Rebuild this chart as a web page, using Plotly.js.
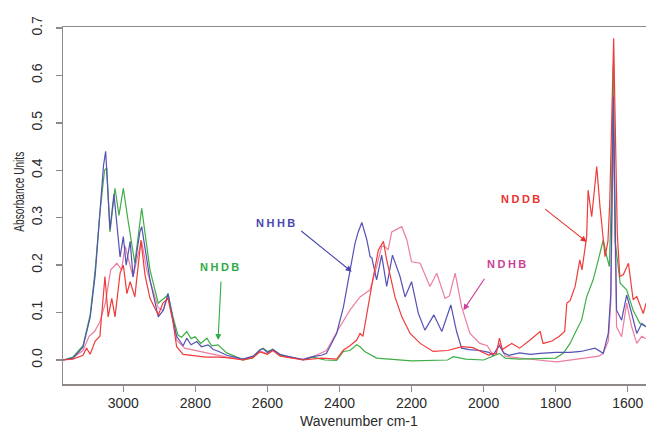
<!DOCTYPE html>
<html>
<head>
<meta charset="utf-8">
<script src="https://cdn.plot.ly/plotly-3.0.1.min.js"></script>
<style>
html,body{margin:0;padding:0;background:#fff;overflow:hidden;}
#chart{width:646px;height:431px;}
</style>
</head>
<body>
<div id="chart"></div>
<script>
// Wavenumbers (cm-1) and absorbance values
var nhhbWn = [3167,3140,3112,3092,3078,3065,3055,3049,3037,3026,3009,3000,2992,2981,2973,2954,2949,2926,2903,2889,2876,2866,2852,2843,2834,2824,2812,2796,2783,2765,2750,2735,2713,2690,2668,2640,2621,2612,2600,2585,2565,2547,2525,2501,2474,2450,2436,2408,2389,2371,2357,2348,2338,2324,2315,2310,2297,2283,2269,2253,2232,2218,2200,2181,2163,2138,2116,2091,2075,2061,2040,2010,1985,1975,1956,1945,1930,1900,1870,1843,1820,1800,1760,1730,1691,1668,1654,1647,1640,1635,1631,1617,1603,1589,1575,1561,1549];
var nhhbAbs = [0.000,0.004,0.027,0.090,0.180,0.300,0.410,0.440,0.275,0.350,0.217,0.260,0.200,0.250,0.175,0.270,0.281,0.169,0.091,0.105,0.140,0.100,0.050,0.040,0.030,0.046,0.032,0.039,0.028,0.032,0.022,0.018,0.010,0.006,0.002,0.008,0.021,0.024,0.016,0.022,0.012,0.008,0.004,0.001,0.007,0.010,0.014,0.056,0.112,0.183,0.246,0.270,0.290,0.253,0.218,0.215,0.169,0.221,0.155,0.221,0.176,0.133,0.165,0.098,0.063,0.095,0.060,0.116,0.060,0.025,0.022,0.020,0.016,0.010,0.030,0.015,0.010,0.015,0.012,0.014,0.015,0.016,0.016,0.018,0.025,0.014,0.056,0.140,0.555,0.250,0.105,0.084,0.137,0.098,0.056,0.077,0.070];

var nhdbWn = [3167,3140,3112,3092,3078,3065,3052,3046,3037,3023,3012,3000,2987,2968,2949,2926,2903,2879,2876,2862,2848,2838,2824,2812,2801,2785,2768,2755,2737,2713,2690,2668,2640,2621,2612,2600,2585,2565,2547,2520,2501,2474,2440,2408,2389,2371,2352,2343,2330,2297,2241,2200,2100,2084,2050,2000,1956,1940,1900,1850,1800,1779,1760,1742,1728,1714,1696,1682,1668,1658,1651,1645,1640,1635,1621,1603,1585,1566,1549];
var nhdbAbs = [0.000,0.006,0.030,0.095,0.190,0.310,0.400,0.405,0.270,0.362,0.305,0.362,0.295,0.204,0.320,0.190,0.120,0.135,0.140,0.090,0.052,0.048,0.060,0.045,0.049,0.035,0.046,0.030,0.032,0.015,0.008,0.000,0.005,0.021,0.025,0.018,0.023,0.010,0.008,0.004,0.000,0.006,0.000,-0.001,0.018,0.020,0.032,0.028,0.018,0.004,0.000,-0.002,0.000,0.007,0.002,0.000,0.014,0.004,0.002,0.003,0.004,0.014,0.035,0.063,0.084,0.133,0.169,0.210,0.253,0.218,0.197,0.350,0.620,0.250,0.162,0.148,0.105,0.077,0.070];

var nddbWn = [3167,3140,3112,3102,3092,3078,3065,3051,3042,3032,3023,3009,3000,2990,2981,2968,2951,2940,2926,2903,2890,2876,2862,2852,2834,2800,2770,2737,2713,2668,2640,2621,2600,2585,2565,2547,2501,2450,2408,2389,2371,2352,2343,2335,2320,2306,2292,2278,2270,2260,2246,2227,2204,2176,2140,2100,2060,2030,2000,1985,1978,1965,1956,1948,1922,1900,1871,1843,1835,1810,1790,1775,1769,1760,1746,1733,1727,1714,1710,1700,1686,1677,1663,1655,1650,1645,1639,1636,1629,1622,1612,1598,1585,1575,1557,1549];
var nddbAbs = [0.000,0.002,0.010,0.025,0.012,0.040,0.050,0.176,0.091,0.130,0.091,0.183,0.200,0.140,0.165,0.133,0.253,0.180,0.130,0.095,0.120,0.130,0.080,0.028,0.012,0.008,0.006,0.006,0.005,0.000,0.005,0.017,0.012,0.020,0.008,0.006,0.000,0.004,0.002,0.021,0.030,0.042,0.056,0.050,0.120,0.176,0.232,0.250,0.215,0.183,0.133,0.091,0.056,0.035,0.018,0.020,0.028,0.026,0.015,0.010,0.014,0.013,0.046,0.022,0.035,0.025,0.042,0.060,0.035,0.040,0.050,0.060,0.120,0.125,0.155,0.211,0.190,0.260,0.358,0.302,0.408,0.323,0.218,0.250,0.330,0.500,0.678,0.550,0.267,0.176,0.180,0.204,0.127,0.134,0.098,0.120];

var ndhbWn = [3167,3140,3112,3095,3080,3065,3050,3035,3018,3005,2995,2985,2973,2960,2949,2935,2920,2903,2889,2876,2866,2852,2830,2800,2765,2737,2713,2668,2640,2621,2600,2585,2565,2547,2501,2474,2436,2399,2371,2343,2315,2297,2283,2275,2265,2255,2237,2227,2213,2200,2176,2149,2130,2107,2095,2079,2061,2038,2010,1990,1973,1955,1940,1900,1850,1797,1760,1720,1680,1668,1654,1647,1640,1636,1631,1617,1603,1589,1575,1561,1549];
var ndhbAbs = [0.000,0.005,0.020,0.050,0.060,0.080,0.120,0.190,0.204,0.190,0.240,0.210,0.175,0.220,0.250,0.190,0.150,0.110,0.105,0.135,0.100,0.042,0.025,0.020,0.015,0.010,0.006,0.002,0.006,0.019,0.013,0.021,0.010,0.006,0.002,0.007,0.020,0.070,0.105,0.133,0.148,0.197,0.239,0.240,0.232,0.270,0.278,0.281,0.253,0.207,0.204,0.155,0.183,0.130,0.135,0.183,0.112,0.056,0.035,0.030,0.010,0.035,0.008,0.004,0.000,-0.004,0.000,0.003,0.008,0.014,0.040,0.120,0.500,0.300,0.070,0.049,0.120,0.070,0.035,0.050,0.045];

var xTickVals = [3000,2800,2600,2400,2200,2000,1800,1600];
var xTickText = ['3000','2800','2600','2400','2200','2000','1800','1600'];
var yTickVals = [0,0.1,0.2,0.3,0.4,0.5,0.6,0.7];
var yTickText = ['0.0','0.1','0.2','0.3','0.4','0.5','0.6','0.7'];

var cBlue = '#5452b4', cGreen = '#3fae47', cRed = '#ef3b3b', cPink = '#ec7ea0';
var axisCol = '#8e8987';
var fam = 'Liberation Sans, Arial, sans-serif';

var traces = [
  {x: ndhbWn, y: ndhbAbs, name: 'NDHB', mode: 'lines', line: {color: cPink, width: 1.2}},
  {x: nhdbWn, y: nhdbAbs, name: 'NHDB', mode: 'lines', line: {color: cGreen, width: 1.2}},
  {x: nhhbWn, y: nhhbAbs, name: 'NHHB', mode: 'lines', line: {color: cBlue, width: 1.2}},
  {x: nddbWn, y: nddbAbs, name: 'NDDB', mode: 'lines', line: {color: cRed, width: 1.2}}
];

function lab(t, x, y, col) {
  return {text: t, x: x, y: y, xref: 'x', yref: 'y', showarrow: false,
          font: {family: fam, size: 11, color: col, weight: 'bold'}};
}
function arr(x, y, ax, ay, col) {
  return {text: '', x: x, y: y, xref: 'x', yref: 'y', ax: ax, ay: ay, showarrow: true,
          arrowhead: 2, arrowsize: 1.1, arrowwidth: 1.1, arrowcolor: col};
}

var layout = {
  width: 646, height: 431,
  margin: {l: 63, r: 0, t: 27, b: 47},
  paper_bgcolor: '#ffffff', plot_bgcolor: '#ffffff',
  showlegend: false,
  font: {family: fam, size: 14, color: '#2a2a2a'},
  xaxis: {
    range: [3167.4, 1549.3], tickvals: xTickVals, ticktext: xTickText,
    showgrid: false, zeroline: false, showline: true, mirror: true,
    linecolor: axisCol, linewidth: 1.5, ticks: 'outside', ticklen: 6, tickcolor: axisCol, tickwidth: 1.5,
    tickfont: {size: 14}
  },
  yaxis: {
    range: [-0.0506, 0.702], tickvals: yTickVals, ticktext: yTickText,
    showgrid: false, zeroline: false, showline: true, mirror: false,
    linecolor: axisCol, linewidth: 1.5, ticks: 'outside', ticklen: 6, tickcolor: axisCol, tickwidth: 1.5,
    tickangle: -90, tickfont: {size: 14}, ticklabelstandoff: 8
  },
  annotations: [
    {text: 'Wavenumber cm-1', xref: 'paper', yref: 'paper', x: 0.5072, y: -0.1050,
     xanchor: 'center', yanchor: 'middle', showarrow: false, font: {family: fam, size: 14, color: '#2a2a2a'}},
    {text: 'Absorbance Units', xref: 'paper', yref: 'paper', x: -0.0755, y: 0.5406, textangle: -90,
     xanchor: 'center', yanchor: 'middle', showarrow: false, font: {family: fam, size: 14, color: '#2a2a2a'}},
    lab('NHHB', 2573, 0.289, '#4a48b0'),
    lab('NHDB', 2729, 0.196, '#2faa44'),
    lab('NDHB', 1932, 0.202, '#cc3f99'),
    lab('NDDB', 1894, 0.339, '#e8322f'),
    arr(2366, 0.186, -52, -42, '#4a48b0'),
    arr(2737, 0.042, 3, -60, '#2faa44'),
    arr(2056, 0.105, 22, -33, '#cc3f99'),
    arr(1714, 0.249, -43, -34, '#e8322f')
  ]
};

Plotly.newPlot('chart', traces, layout, {displayModeBar: false, staticPlot: true}).then(function () {
  document.querySelectorAll('.annotation-text').forEach(function (t) {
    var s = t.textContent;
    if (s === 'Absorbance Units') {
      t.setAttribute('textLength', '80');
      t.setAttribute('lengthAdjust', 'spacingAndGlyphs');
    } else if (s.length === 4 && s.charAt(0) === 'N') {
      t.style.letterSpacing = '2.5px';
    }
  });
});
</script>
</body>
</html>
